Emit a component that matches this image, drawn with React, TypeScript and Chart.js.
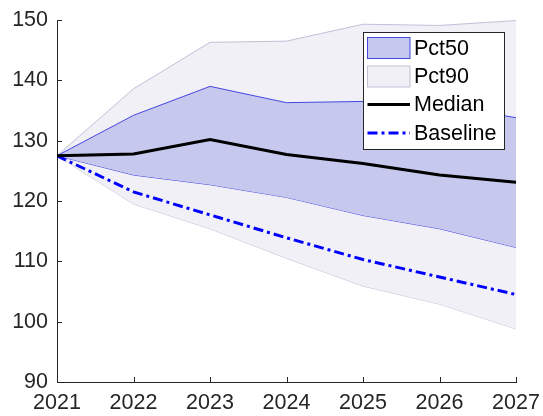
import React, { useEffect, useRef } from "react";
import { Chart, registerables } from "chart.js";

Chart.register(...registerables);

const years = [2021, 2022, 2023, 2024, 2025, 2026, 2027];
const median = [127.5, 127.8, 130.2, 127.7, 126.2, 124.3, 123.1];
const baseline = [127.5, 121.5, 117.7, 113.9, 110.3, 107.4, 104.5];
const pct50Upper = [127.5, 134.2, 139.0, 136.3, 136.5, 136.0, 133.8];
const pct50Lower = [127.5, 124.3, 122.7, 120.6, 117.6, 115.4, 112.3];
const pct90Upper = [127.5, 138.6, 146.3, 146.5, 149.3, 149.1, 149.9];
const pct90Lower = [127.5, 119.5, 115.4, 110.5, 105.9, 102.9, 98.8];
const yTicks = [90, 100, 110, 120, 130, 140, 150];

const FONT = '"Liberation Sans", Arial, Helvetica, sans-serif';
const AXIS = "#262626";
const P50_FILL = "rgb(198,200,238)";
const P50_EDGE = "rgb(70,70,225)";
const P90_FILL = "rgb(240,240,246)";
const P90_EDGE = "rgb(192,192,216)";

const pts = (arr: number[]) => arr.map((y, i) => ({ x: years[i], y }));

const insideTicks = {
  id: "insideTicks",
  afterDraw(chart: any) {
    const { ctx, chartArea, scales } = chart;
    ctx.save();
    ctx.strokeStyle = AXIS;
    ctx.lineWidth = 1;
    ctx.beginPath();
    years.forEach((yr) => {
      const x = Math.round(scales.x.getPixelForValue(yr)) + 0.5;
      ctx.moveTo(x, chartArea.bottom);
      ctx.lineTo(x, chartArea.bottom - 5);
    });
    yTicks.forEach((v) => {
      const y = Math.round(scales.y.getPixelForValue(v)) + 0.5;
      ctx.moveTo(chartArea.left, y);
      ctx.lineTo(chartArea.left + 5, y);
    });
    ctx.stroke();
    ctx.restore();
  },
};

const legendPlugin = {
  id: "matLegend",
  afterDraw(chart: any) {
    const ctx = chart.ctx;
    ctx.save();
    const bx = 363.5, by = 32.5, bw = 141, bh = 117;
    ctx.fillStyle = "#ffffff";
    ctx.fillRect(bx, by, bw, bh);
    ctx.strokeStyle = AXIS;
    ctx.lineWidth = 1;
    ctx.strokeRect(bx, by, bw, bh);
    const ix0 = 367.5, ix1 = 410;
    const rows = [48, 76.5, 104.5, 133];
    ctx.fillStyle = P50_FILL;
    ctx.fillRect(ix0, rows[0] - 10.5, ix1 - ix0, 21);
    ctx.strokeStyle = P50_EDGE;
    ctx.strokeRect(ix0, rows[0] - 10.5, ix1 - ix0, 21);
    ctx.fillStyle = P90_FILL;
    ctx.fillRect(ix0, rows[1] - 10.5, ix1 - ix0, 21);
    ctx.strokeStyle = P90_EDGE;
    ctx.strokeRect(ix0, rows[1] - 10.5, ix1 - ix0, 21);
    ctx.strokeStyle = "#000000";
    ctx.lineWidth = 3;
    ctx.beginPath();
    ctx.moveTo(ix0, rows[2]);
    ctx.lineTo(ix1, rows[2]);
    ctx.stroke();
    ctx.strokeStyle = "#0000ff";
    ctx.setLineDash([10, 4, 3, 4]);
    ctx.beginPath();
    ctx.moveTo(ix0, rows[3]);
    ctx.lineTo(ix1, rows[3]);
    ctx.stroke();
    ctx.setLineDash([]);
    ctx.fillStyle = "#000000";
    ctx.font = `21.5px ${FONT}`;
    ctx.textBaseline = "middle";
    ctx.textAlign = "left";
    ["Pct50", "Pct90", "Median", "Baseline"].forEach((t, i) => {
      ctx.fillText(t, 414, rows[i] + 1);
    });
    ctx.restore();
  },
};

export default function App() {
  const ref = useRef<HTMLCanvasElement | null>(null);
  useEffect(() => {
    document.body.style.margin = "0";
    const chart = new Chart(ref.current as HTMLCanvasElement, {
      type: "line",
      data: {
        datasets: [
          { label: "Median", data: pts(median), borderColor: "#000000", borderWidth: 3, pointRadius: 0, fill: false, order: 0 },
          { label: "Baseline", data: pts(baseline), borderColor: "#0000ff", borderWidth: 3, borderDash: [10, 4, 3, 4], pointRadius: 0, fill: false, order: 1 },
          { label: "Pct50", data: pts(pct50Upper), borderColor: P50_EDGE, borderWidth: 1, backgroundColor: P50_FILL, pointRadius: 0, fill: 3, order: 2 },
          { label: "Pct50 low", data: pts(pct50Lower), borderColor: P50_EDGE, borderWidth: 1, pointRadius: 0, fill: false, order: 3 },
          { label: "Pct90", data: pts(pct90Upper), borderColor: P90_EDGE, borderWidth: 1, backgroundColor: P90_FILL, pointRadius: 0, fill: 5, order: 4 },
          { label: "Pct90 low", data: pts(pct90Lower), borderColor: P90_EDGE, borderWidth: 1, pointRadius: 0, fill: false, order: 5 },
        ] as any,
      },
      options: {
        animation: false,
        responsive: false,
        maintainAspectRatio: false,
        layout: { padding: { top: 20, right: 27, left: 0, bottom: 0 } },
        plugins: { legend: { display: false }, tooltip: { enabled: false } },
        elements: { line: { tension: 0 } },
        scales: {
          x: {
            type: "linear",
            min: 2021,
            max: 2027,
            grid: { display: false, drawTicks: false },
            border: { display: true, color: AXIS, width: 1 },
            ticks: {
              stepSize: 1,
              color: AXIS,
              font: { family: FONT, size: 21.5 },
              padding: 8,
              maxRotation: 0,
              callback: (v: any) => String(v),
            },
            afterFit: (s: any) => {
              s.height = 34;
              s.paddingLeft = 0;
              s.paddingRight = 0;
            },
          },
          y: {
            min: 90,
            max: 150,
            grid: { display: false, drawTicks: false },
            border: { display: true, color: AXIS, width: 1 },
            ticks: {
              stepSize: 10,
              color: AXIS,
              font: { family: FONT, size: 21.5 },
              padding: 9,
              callback: (v: any) => String(v),
            },
            afterFit: (s: any) => {
              s.width = 57;
              s.paddingTop = 0;
              s.paddingBottom = 0;
            },
          },
        },
      } as any,
      plugins: [insideTicks, legendPlugin],
    });
    return () => chart.destroy();
  }, []);
  return (
    <div style={{ width: 543, height: 416 }}>
      <canvas ref={ref} width={543} height={416} style={{ display: "block" }} />
    </div>
  );
}
